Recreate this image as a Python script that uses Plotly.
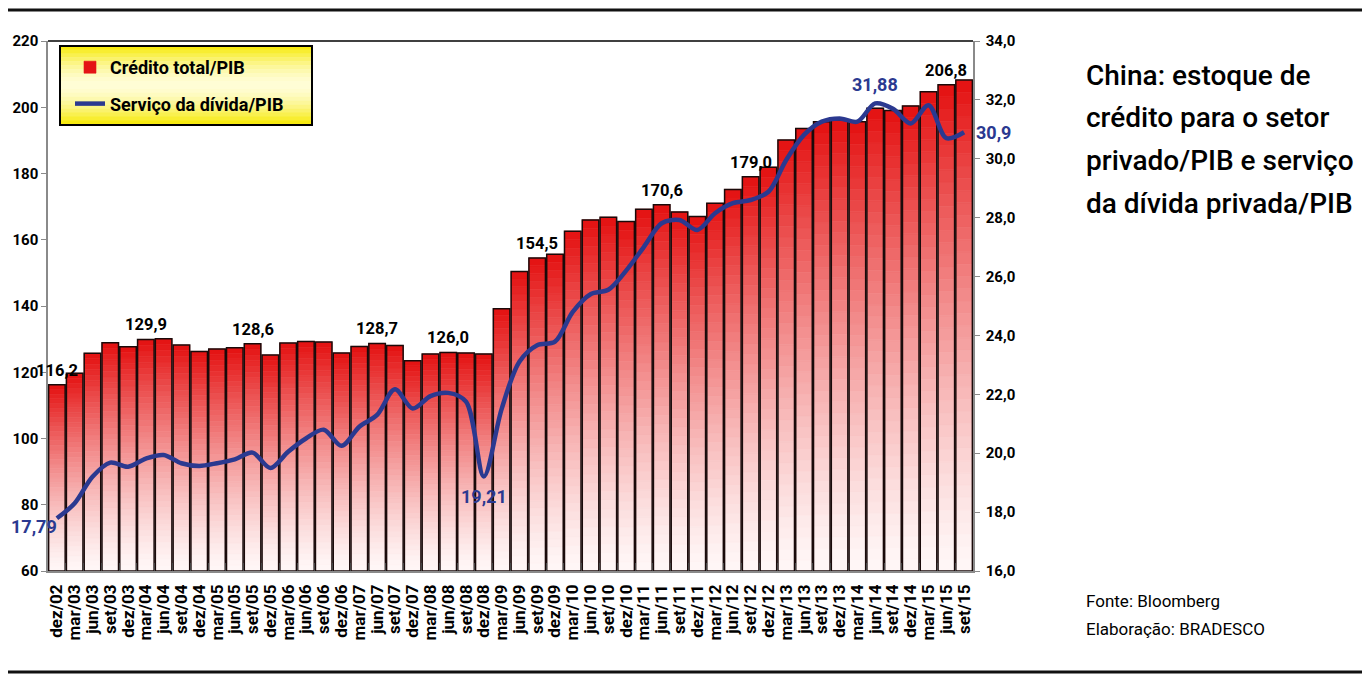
import plotly.graph_objects as go

# ---------------- data ----------------
categories = [
    "dez/02", "mar/03", "jun/03", "set/03", "dez/03", "mar/04", "jun/04", "set/04",
    "dez/04", "mar/05", "jun/05", "set/05", "dez/05", "mar/06", "jun/06", "set/06",
    "dez/06", "mar/07", "jun/07", "set/07", "dez/07", "mar/08", "jun/08", "set/08",
    "dez/08", "mar/09", "jun/09", "set/09", "dez/09", "mar/10", "jun/10", "set/10",
    "dez/10", "mar/11", "jun/11", "set/11", "dez/11", "mar/12", "jun/12", "set/12",
    "dez/12", "mar/13", "jun/13", "set/13", "dez/13", "mar/14", "jun/14", "set/14",
    "dez/14", "mar/15", "jun/15", "set/15",
]
credito_pib = [
    116.2, 119.7, 125.7, 128.9, 127.7, 129.9, 130.1, 128.2,
    126.3, 127.0, 127.4, 128.6, 125.2, 128.8, 129.3, 129.1,
    125.8, 127.8, 128.7, 128.1, 123.5, 125.5, 126.0, 125.8,
    125.5, 139.2, 150.4, 154.5, 155.6, 162.6, 166.0, 166.8,
    165.5, 169.2, 170.6, 168.4, 167.0, 171.0, 175.2, 179.0,
    181.9, 190.1, 193.6, 195.6, 196.2, 195.6, 199.7, 199.0,
    200.4, 204.7, 206.8, 208.2,
]
servico_pib = [
    17.79, 18.30, 19.20, 19.68, 19.54, 19.82, 19.94, 19.66,
    19.57, 19.66, 19.79, 20.02, 19.50, 20.05, 20.50, 20.80,
    20.25, 20.90, 21.30, 22.17, 21.52, 21.94, 22.05, 21.75,
    19.21, 21.50, 23.11, 23.67, 23.79, 24.80, 25.40, 25.55,
    26.20, 27.01, 27.81, 27.92, 27.58, 28.15, 28.49, 28.60,
    28.88, 29.96, 30.81, 31.26, 31.37, 31.26, 31.88, 31.70,
    31.20, 31.82, 30.70, 30.90,
]
credito_rotulos = ["dez/02", "mar/04", "set/05", "jun/07", "jun/08",
                   "set/09", "jun/11", "set/12", "jun/15"]
servico_rotulos = ["dez/02", "dez/08", "jun/14", "set/15"]
ticks_esq = [60, 80, 100, 120, 140, 160, 180, 200, 220]
ticks_dir = [16, 18, 20, 22, 24, 26, 28, 30, 32, 34]
titulo_linhas = ["China: estoque de", "crédito para o setor",
                 "privado/PIB e serviço", "da dívida privada/PIB"]
fonte_linhas = ["Fonte: Bloomberg", "Elaboração: BRADESCO"]

# ---------------- style ----------------
FONT = "Roboto, Liberation Sans, DejaVu Sans, sans-serif"
RED_TOP = (228, 16, 16)
RED_BOT = (255, 247, 247)
BLUE = "#2b3990"
BASE = ticks_esq[0]
N_SEG = 40

# the page body adds an 8px offset; work in page pixels
OFF = 8
W, H = 1370 - 2 * OFF, 687 - 2 * OFF
PL, PR, PT, PB = 48, 973, 41, 571          # plot area in page pixels
ML, MT = PL - OFF, PT - OFF
MR, MB = W - (PR - OFF), H - (PB - OFF)
PW, PH = PR - PL, PB - PT


def px_x(x):
    return (x - PL) / PW


def px_y(y):
    return (PB - y) / PH


def fmt(v, nd):
    return f"{v:.{nd}f}".replace(".", ",")


fig = go.Figure()

# gradient bars: stacked slices of each bar, colour by relative height
for k in range(N_SEG):
    f0 = k / N_SEG
    fm = (k + 0.5) / N_SEG
    t = fm ** 1.3
    c = tuple(round(RED_BOT[i] + (RED_TOP[i] - RED_BOT[i]) * t) for i in range(3))
    col = f"rgb{c}"
    top = k == N_SEG - 1
    fig.add_trace(go.Bar(
        x=categories,
        y=[(v - BASE) / N_SEG for v in credito_pib],
        base=[BASE + (v - BASE) * f0 for v in credito_pib],
        marker=dict(color=col, line=dict(color=col, width=0.6)),
        name="Crédito total/PIB",
        showlegend=top,
        legendgroup="a",
        hoverinfo="skip" if not top else None,
        yaxis="y",
    ))

# outline of each bar
fig.add_trace(go.Bar(
    x=categories,
    y=[v - BASE for v in credito_pib],
    base=[BASE] * len(credito_pib),
    marker=dict(color="rgba(0,0,0,0)", line=dict(color="#1a0a0a", width=1.5)),
    showlegend=False,
    hoverinfo="skip",
    yaxis="y",
))

fig.add_trace(go.Scatter(
    x=categories,
    y=servico_pib,
    mode="lines",
    line=dict(color=BLUE, width=4.5, shape="spline", smoothing=0.9),
    name="Serviço da dívida/PIB",
    legendgroup="b",
    yaxis="y2",
))

annotations = []
for cat in credito_rotulos:
    v = credito_pib[categories.index(cat)]
    annotations.append(dict(
        x=cat, y=v, xref="x", yref="y", text=fmt(v, 1), showarrow=False,
        yanchor="bottom", yshift=3,
        font=dict(family=FONT, size=16.5, color="black", weight="bold"),
    ))

serv_pos = {
    "dez/02": dict(xanchor="right", yanchor="top", xshift=2, yshift=4),
    "dez/08": dict(xanchor="center", yanchor="top", yshift=-8),
    "jun/14": dict(xanchor="center", yanchor="bottom", yshift=6),
    "set/15": dict(xanchor="left", yanchor="middle", xshift=10),
}
for cat in servico_rotulos:
    v = servico_pib[categories.index(cat)]
    nd = 1 if cat == "set/15" else 2
    annotations.append(dict(
        x=cat, y=v, xref="x", yref="y2", text=fmt(v, nd), showarrow=False,
        font=dict(family=FONT, size=18, color=BLUE, weight="bold"),
        **serv_pos[cat],
    ))

title_y = [75, 118, 161, 203]
for txt, yy in zip(titulo_linhas, title_y):
    annotations.append(dict(
        x=px_x(1084), y=px_y(yy), xref="paper", yref="paper", text=txt,
        showarrow=False, xanchor="left", yanchor="middle",
        font=dict(family=FONT, size=28, color="black", weight=500),
    ))
for txt, yy in zip(fonte_linhas, [601, 629]):
    annotations.append(dict(
        x=px_x(1084), y=px_y(yy), xref="paper", yref="paper", text=txt,
        showarrow=False, xanchor="left", yanchor="middle",
        font=dict(family=FONT, size=17, color="black"),
    ))

# legend background (yellow gradient) built from thin strips
shapes = []
lx0, lx1, ly0, ly1 = 60, 312, 46, 125
n_strip = 20
for i in range(n_strip):
    a = ly0 + (ly1 - ly0) * i / n_strip
    b = ly0 + (ly1 - ly0) * (i + 1) / n_strip
    d = abs((i + 0.5) / n_strip - 0.5) * 2
    d = d ** 1.6
    c = (round(255 + (246 - 255) * d), round(253 + (232 - 253) * d), round(215 + (0 - 215) * d))
    shapes.append(dict(type="rect", xref="paper", yref="paper",
                       x0=px_x(lx0), x1=px_x(lx1), y0=px_y(b), y1=px_y(a) + 0.001,
                       fillcolor=f"rgb{c}", line=dict(width=0), layer="above"))
shapes.append(dict(type="rect", xref="paper", yref="paper",
                   x0=px_x(lx0), x1=px_x(lx1), y0=px_y(ly1), y1=px_y(ly0),
                   fillcolor="rgba(0,0,0,0)", line=dict(color="black", width=2),
                   layer="above"))
# top frame line of plot
shapes.append(dict(type="line", xref="paper", yref="paper", x0=0, x1=1, y0=1, y1=1,
                   line=dict(color="black", width=1.5)))
# horizontal rules of the page
shapes.append(dict(type="line", xref="paper", yref="paper",
                   x0=px_x(0), x1=px_x(1370), y0=px_y(10), y1=px_y(10),
                   line=dict(color="#111", width=3)))
shapes.append(dict(type="line", xref="paper", yref="paper",
                   x0=px_x(0), x1=px_x(1370), y0=px_y(672), y1=px_y(672),
                   line=dict(color="#111", width=3)))

fig.update_layout(
    width=W, height=H, autosize=False,
    margin=dict(l=ML, r=MR, t=MT, b=MB, pad=0),
    paper_bgcolor="white", plot_bgcolor="white",
    barmode="overlay", bargap=0.07,
    separators=", ",
    showlegend=True,
    legend=dict(
        x=px_x(70), y=px_y(49), xanchor="left", yanchor="top",
        bgcolor="rgba(0,0,0,0)", borderwidth=0,
        font=dict(family=FONT, size=18, color="black", weight="bold"),
        traceorder="grouped", tracegroupgap=10,
        itemwidth=30,
    ),
    xaxis=dict(
        type="category", range=[-0.5, len(categories) - 0.5],
        tickmode="linear", tick0=0, dtick=1, automargin=False,
        showline=True, linecolor="#8a8a8a", linewidth=1.5,
        ticks="inside", tickson="boundaries", ticklen=8, tickcolor="#444",
        tickangle=-90, showgrid=False, ticklabelstandoff=5,
        tickfont=dict(family=FONT, size=17, color="black", weight="bold"),
    ),
    yaxis=dict(
        range=[ticks_esq[0], ticks_esq[-1]], tickvals=ticks_esq, automargin=False,
        showline=True, linecolor="#8a8a8a", linewidth=1.5,
        ticks="outside", ticklen=5, tickcolor="#8a8a8a",
        showgrid=False, zeroline=False,
        tickfont=dict(family=FONT, size=15, color="black", weight="bold"),
    ),
    yaxis2=dict(
        overlaying="y", side="right", automargin=False,
        range=[ticks_dir[0], ticks_dir[-1]], tickvals=ticks_dir, tickformat=".1f",
        showline=True, linecolor="#8a8a8a", linewidth=1.5,
        ticks="outside", ticklen=5, tickcolor="#8a8a8a",
        showgrid=False, zeroline=False, ticklabelstandoff=3,
        tickfont=dict(family=FONT, size=15, color="black", weight="bold"),
    ),
    annotations=annotations,
    shapes=shapes,
)

fig.write_html("out.html")
